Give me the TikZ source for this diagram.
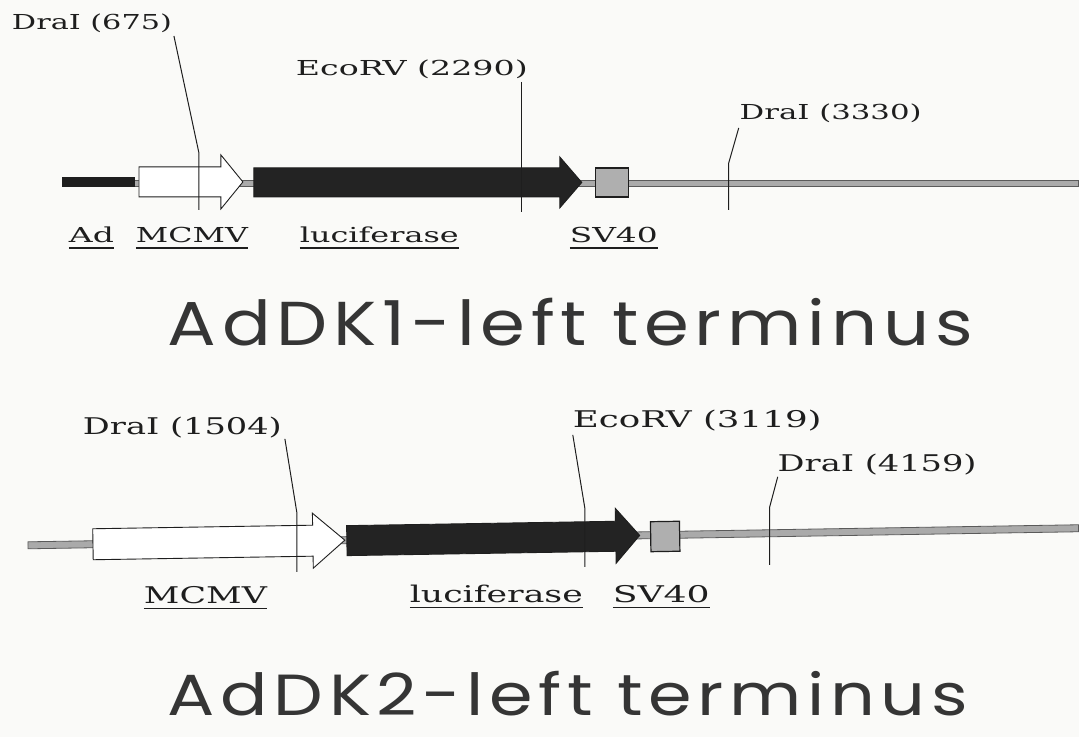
\documentclass[tikz,border=0pt]{standalone}
\usepackage{fontspec}
\usepackage{graphicx}
\newfontfamily\labfont{DejaVu Serif}
\newfontfamily\titfont[LetterSpace=8]{Poppins}
\newcommand\fitw[2]{\resizebox{#1pt}{\height}{#2}}
\definecolor{ink}{RGB}{30,30,30}
\definecolor{bgc}{RGB}{250,250,248}
\definecolor{dnafill}{RGB}{170,170,170}
\definecolor{dnaedge}{RGB}{90,90,90}
\definecolor{lucfill}{RGB}{35,35,35}
\definecolor{svfill}{RGB}{175,175,175}
\begin{document}
\begin{tikzpicture}[x=1pt,y=-1pt,
  every node/.style={inner sep=0pt,outer sep=0pt},
  lab/.style={font=\labfont\fontsize{20.6}{24}\selectfont,text=ink,anchor=base west},
  labb/.style={font=\labfont\fontsize{23}{27}\selectfont,text=ink,anchor=base west},
  ttl/.style={font=\titfont\fontsize{62}{68}\selectfont,text=ink!90,anchor=base west},
  ttlb/.style={font=\titfont\fontsize{58}{64}\selectfont,text=ink!90,anchor=base west},
  siteline/.style={draw=ink,line width=1pt},
  uline/.style={draw=ink,line width=1.2pt},
  dna/.style={fill=dnafill,draw=dnaedge,line width=0.8pt},
  adbar/.style={fill=ink,draw=ink,line width=0.5pt},
  promo/.style={fill=white,draw=ink,line width=0.9pt,line join=miter},
  luc/.style={fill=lucfill,draw=ink,line width=0.9pt,line join=miter},
  svbox/.style={fill=svfill,draw=ink,line width=1.2pt}
]
\fill[bgc] (0,0) rectangle (1079,737);

% ---------------- top map ----------------
\draw[dna] (134,180) rectangle (1079,186);
\draw[adbar] (62,177.5) rectangle (134,186.5);
\draw[promo] (139,167) -- (221,167) -- (221,155) -- (243,182) -- (221,209) -- (221,197) -- (139,197) -- cycle;
\draw[luc] (254,168) -- (560,168) -- (560,157) -- (582,182.5) -- (560,208) -- (560,197) -- (254,197) -- cycle;
\draw[svbox] (596,168) rectangle (629,197);

% sites
\node[lab] (s1) at (12,30) {\fitw{160}{DraI (675)}};
\coordinate (s1a) at (174,36);
\coordinate (s1b) at (199,153);
\coordinate (s1c) at (199,210);
\draw[siteline] (s1a) -- (s1b) -- (s1c);

\node[lab] (s2) at (296,76) {\fitw{232}{EcoRV (2290)}};
\coordinate (s2a) at (522,82);
\coordinate (s2c) at (522,212);
\draw[siteline] (s2a) -- (s2c);

\node[lab] (s3) at (740,120) {\fitw{182}{DraI (3330)}};
\coordinate (s3a) at (739,128);
\coordinate (s3b) at (729,163);
\coordinate (s3c) at (729,210);
\draw[siteline] (s3a) -- (s3b) -- (s3c);

% labels
\node[lab] (l1) at (69,243) {\fitw{45}{Ad}};
\node[lab] (l2) at (136,243) {\fitw{112}{MCMV}};
\node[lab] (l3) at (300,243) {\fitw{159}{luciferase}};
\node[lab] (l4) at (570,243) {\fitw{88}{SV40}};
\foreach \n in {l1,l2,l3,l4}{\draw[uline] ([yshift=-5pt]\n.base west) -- ([yshift=-5pt]\n.base east);}

\node[ttl] (t1) at (168,346) {\fitw{805}{AdDK1-left terminus}};

% ---------------- bottom map ----------------
\begin{scope}[rotate around={0.93:(28,545)}]
\draw[dna] (28,542) rectangle (1079,549);
\draw[promo] (93,530) -- (313,530) -- (313,518) -- (345,545.5) -- (313,573) -- (313,561) -- (93,561) -- cycle;
\draw[luc] (347,531) -- (616,531) -- (616,518) -- (640,545.5) -- (616,573) -- (616,561) -- (347,561) -- cycle;
\draw[svbox] (651,532) rectangle (680,562);
\end{scope}

\node[labb] (s4) at (83,435) {\fitw{199}{DraI (1504)}};
\coordinate (s4a) at (285,439);
\coordinate (s4b) at (297,513);
\coordinate (s4c) at (297,572);
\draw[siteline] (s4a) -- (s4b) -- (s4c);

\node[labb] (s5) at (573,428) {\fitw{249}{EcoRV (3119)}};
\coordinate (s5a) at (573,435);
\coordinate (s5b) at (585,508);
\coordinate (s5c) at (585,567);
\draw[siteline] (s5a) -- (s5b) -- (s5c);

\node[labb] (s6) at (778,472) {\fitw{199}{DraI (4159)}};
\coordinate (s6a) at (778,477);
\coordinate (s6b) at (770,507);
\coordinate (s6c) at (770,565);
\draw[siteline] (s6a) -- (s6b) -- (s6c);

\node[labb] (l5) at (144,604) {\fitw{123}{MCMV}};
\node[labb] (l6) at (410,603) {\fitw{173}{luciferase}};
\node[labb] (l7) at (613,603) {\fitw{97}{SV40}};
\foreach \n in {l5,l6,l7}{\draw[uline] ([yshift=-5pt]\n.base west) -- ([yshift=-5pt]\n.base east);}

\node[ttlb] (t2) at (168,716) {\fitw{800}{AdDK2-left terminus}};
\end{tikzpicture}
\end{document}
